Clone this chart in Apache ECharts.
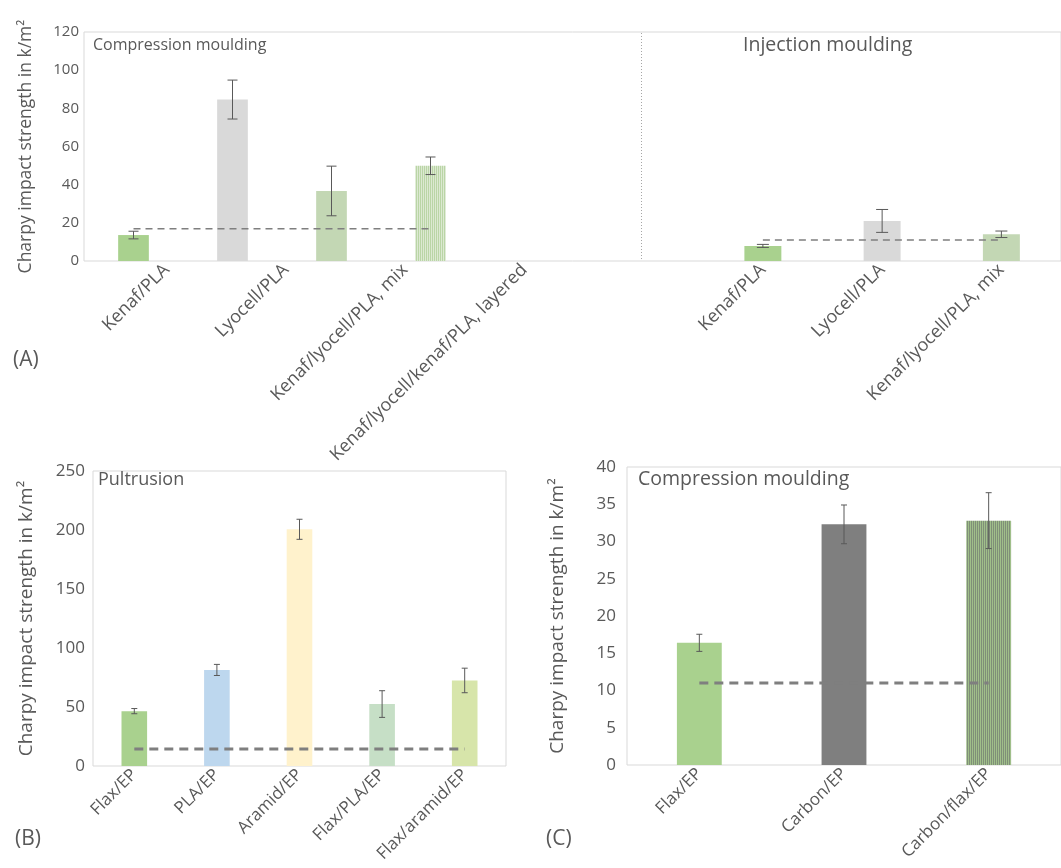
<!DOCTYPE html>
<html>
<head>
<meta charset="utf-8">
<script src="https://cdn.jsdelivr.net/npm/echarts@6/dist/echarts.min.js"></script>
<style>
  html, body { margin: 0; padding: 0; background: #fff; }
  #main { width: 1061px; height: 868px; }
</style>
</head>
<body>
<div id="main"></div>
<script>
// panel A - compression moulding (left) and injection moulding (right)
var catsA = ['Kenaf/PLA', 'Lyocell/PLA', 'Kenaf/lyocell/PLA, mix', 'Kenaf/lyocell/kenaf/PLA, layered', '', 'Kenaf/PLA', 'Lyocell/PLA', 'Kenaf/lyocell/PLA, mix'];
var valsA_cm = [13.6, 84.6, 36.7, 49.9];
var errA_cm = [2, 10.2, 13, 4.6];
var refA_cm = [16.9, 16.9, 16.9, 16.9];
var valsA_im = [7.9, 21, 14];
var errA_im = [0.8, 6, 1.7];
var refA_im = [11, 11, 11];

// panel B - pultrusion
var catsB = ['Flax/EP', 'PLA/EP', 'Aramid/EP', 'Flax/PLA/EP', 'Flax/aramid/EP'];
var valsB = [46.5, 81.4, 200.6, 52.5, 72.5];
var errB = [2.2, 4.7, 8.5, 11.3, 10.4];
var refB = [14.4, 14.4, 14.4, 14.4, 14.4];

// panel C - compression moulding
var catsC = ['Flax/EP', 'Carbon/EP', 'Carbon/flax/EP'];
var valsC = [16.4, 32.3, 32.8];
var errC = [1.15, 2.6, 3.75];
var refC = [11, 11, 11];

var FONT = 'Open Sans';
var TXT = '#595959';

// vertical stripe fill (layered / hybrid bars)
function stripes(c1, c2) {
  var cv = document.createElement('canvas');
  cv.width = 2; cv.height = 2;
  var ctx = cv.getContext('2d');
  ctx.fillStyle = c1; ctx.fillRect(0, 0, 1, 2);
  ctx.fillStyle = c2; ctx.fillRect(1, 0, 1, 2);
  return { image: cv, repeat: 'repeat' };
}

var green = '#A9D18E';
var colA_cm = [green, '#D9D9D9', '#C3D7B4', stripes('#BAD5A6', '#DCE9D2')];
var colA_im = [green, '#D9D9D9', '#C3D7B4'];
var colB = [green, '#BDD7EE', '#FFF2CC', '#C6DFC6', '#D7E5AA'];
var colC = [green, '#7F7F7F', stripes('#A0BF8A', '#7F8F78')];

function bars(vals, cols, offset) {
  var out = [];
  for (var i = 0; i < (offset || 0); i++) out.push('-');
  vals.forEach(function (v, i) { out.push({ value: v, itemStyle: { color: cols[i] } }); });
  return out;
}
function errData(vals, errs, offset) {
  return vals.map(function (v, i) { return [i + (offset || 0), v - errs[i], v + errs[i]]; });
}
function pad(arr, offset) {
  var out = [];
  for (var i = 0; i < offset; i++) out.push('-');
  return out.concat(arr);
}
function errRender(cap) {
  return function (params, api) {
    var x = api.value(0);
    var lo = api.coord([x, api.value(1)]);
    var hi = api.coord([x, api.value(2)]);
    var st = { stroke: '#595959', lineWidth: 1 };
    return {
      type: 'group',
      children: [
        { type: 'line', shape: { x1: lo[0], y1: lo[1], x2: hi[0], y2: hi[1] }, style: st },
        { type: 'line', shape: { x1: lo[0] - cap, y1: lo[1], x2: lo[0] + cap, y2: lo[1] }, style: st },
        { type: 'line', shape: { x1: hi[0] - cap, y1: hi[1], x2: hi[0] + cap, y2: hi[1] }, style: st }
      ]
    };
  };
}

function yAx(grid, max, step, show, fs, name, nfs, gap, margin) {
  return {
    type: 'value', gridIndex: grid, min: 0, max: max, interval: step,
    axisLine: { show: false }, axisTick: { show: false }, splitLine: { show: false },
    axisLabel: { show: show, color: TXT, fontFamily: FONT, fontSize: fs, margin: margin },
    name: name, nameLocation: 'middle', nameGap: gap,
    nameTextStyle: { color: TXT, fontFamily: FONT, fontSize: nfs }
  };
}
function xAx(grid, cats, show, fs) {
  return {
    type: 'category', gridIndex: grid, data: cats,
    axisLine: { show: false }, axisTick: { show: false },
    axisLabel: { show: show, interval: 0, rotate: 45, color: TXT, fontFamily: FONT, fontSize: fs, margin: 6 }
  };
}
function ttl(text, left, top, fs) {
  return { text: text, left: left, top: top, padding: 0, textStyle: { color: TXT, fontFamily: FONT, fontWeight: 'normal', fontSize: fs } };
}

var dash = function (w, d) { return { color: '#7F7F7F', width: w, type: d }; };
var yName = 'Charpy impact strength in k/m²';

var chart = echarts.init(document.getElementById('main'));
var option = {
  animation: false,
  backgroundColor: '#fff',
  title: [
    ttl('Compression moulding', 93, 37, 16),
    ttl('Injection moulding', 743, 35, 19.5),
    ttl('Pultrusion', 98, 471, 18),
    ttl('Compression moulding', 638, 469, 19.5),
    ttl('(A)', 13, 350, 21),
    ttl('(B)', 15, 829, 21),
    ttl('(C)', 546, 829, 21)
  ],
  grid: [
    { left: 84, top: 32, width: 990, height: 229, show: true, borderColor: '#D9D9D9', borderWidth: 1 }, // A frame
    { left: 107, top: 32, width: 960, height: 229 },   // A label axis + injection bars
    { left: 84, top: 32, width: 495, height: 229 },    // A compression bars
    { left: 93, top: 471, width: 413, height: 295, show: true, borderColor: '#D9D9D9', borderWidth: 1 },
    { left: 627, top: 467, width: 443, height: 298, show: true, borderColor: '#D9D9D9', borderWidth: 1 }
  ],
  xAxis: [
    xAx(0, ['a'], false, 18),
    xAx(1, catsA, true, 18),
    xAx(2, ['', '', '', '', ''], false, 18),
    xAx(3, catsB, true, 17),
    xAx(4, catsC, true, 17)
  ],
  yAxis: [
    yAx(0, 120, 20, true, 15, yName, 17.5, 49, 5),
    yAx(1, 120, 20, false, 15, '', 12, 0, 5),
    yAx(2, 120, 20, false, 15, '', 12, 0, 5),
    yAx(3, 250, 50, true, 17, yName, 19, 57, 8),
    yAx(4, 40, 5, true, 17, yName, 19, 60, 11)
  ],
  graphic: [
    { type: 'line', shape: { x1: 641.5, y1: 33, x2: 641.5, y2: 261 }, style: { stroke: '#A6A6A6', lineWidth: 1, lineDash: [1, 2] } }
  ],
  series: [
    { type: 'bar', xAxisIndex: 2, yAxisIndex: 2, barWidth: '31%', data: bars(valsA_cm, colA_cm) },
    { type: 'line', xAxisIndex: 2, yAxisIndex: 2, symbol: 'none', lineStyle: dash(1.5, [7, 5]), data: refA_cm, z: 3 },
    { type: 'custom', xAxisIndex: 2, yAxisIndex: 2, renderItem: errRender(5), data: errData(valsA_cm, errA_cm), z: 4 },

    { type: 'bar', xAxisIndex: 1, yAxisIndex: 1, barWidth: '31%', data: bars(valsA_im, colA_im, 5) },
    { type: 'line', xAxisIndex: 1, yAxisIndex: 1, symbol: 'none', lineStyle: dash(1.5, [7, 5]), data: pad(refA_im, 5), z: 3 },
    { type: 'custom', xAxisIndex: 1, yAxisIndex: 1, renderItem: errRender(6), data: errData(valsA_im, errA_im, 5), z: 4 },

    { type: 'bar', xAxisIndex: 3, yAxisIndex: 3, barWidth: '31%', data: bars(valsB, colB) },
    { type: 'line', xAxisIndex: 3, yAxisIndex: 3, symbol: 'none', lineStyle: dash(3, [9, 6]), data: refB, z: 3 },
    { type: 'custom', xAxisIndex: 3, yAxisIndex: 3, renderItem: errRender(3), data: errData(valsB, errB), z: 4 },

    { type: 'bar', xAxisIndex: 4, yAxisIndex: 4, barWidth: '31%', data: bars(valsC, colC) },
    { type: 'line', xAxisIndex: 4, yAxisIndex: 4, symbol: 'none', lineStyle: dash(3, [9, 6]), data: refC, z: 3 },
    { type: 'custom', xAxisIndex: 4, yAxisIndex: 4, renderItem: errRender(3), data: errData(valsC, errC), z: 4 }
  ]
};
chart.setOption(option);
</script>
</body>
</html>
